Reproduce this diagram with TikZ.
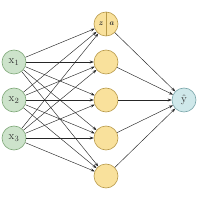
\documentclass[tikz,border=0pt]{standalone}
\usetikzlibrary{arrows.meta}
\definecolor{ingreen}{HTML}{CDE3CB}
\definecolor{instroke}{HTML}{7FA878}
\definecolor{hidfill}{HTML}{F9E19C}
\definecolor{hidstroke}{HTML}{B89A4A}
\definecolor{outfill}{HTML}{CFE8EA}
\definecolor{outstroke}{HTML}{7AA6AA}
\definecolor{txt}{HTML}{333333}
\begin{document}
\begin{tikzpicture}[x=1pt,y=-1pt,
  neuron/.style={circle,minimum size=24pt,inner sep=0pt,line width=0.6pt,text=txt,font=\fontsize{11}{13}\selectfont},
  innode/.style={neuron,fill=ingreen,draw=instroke},
  hidnode/.style={neuron,fill=hidfill,draw=hidstroke},
  outnode/.style={neuron,fill=outfill,draw=outstroke},
  halflabel/.style={font=\fontsize{8}{9}\selectfont\bfseries\itshape,text=txt,inner sep=0pt},
  conn/.style={-{Stealth[length=4pt,width=3pt]},line width=0.45pt,black!85}]
\useasboundingbox (0,0) rectangle (200,200);
\node[innode] (x1) at (14,62) {$\mathrm{x}_1$};
\node[innode] (x2) at (14,100) {$\mathrm{x}_2$};
\node[innode] (x3) at (14,138) {$\mathrm{x}_3$};
\node[hidnode] (h1) at (106,24) {};
\node[hidnode] (h2) at (106,62) {};
\node[hidnode] (h3) at (106,100) {};
\node[hidnode] (h4) at (106,138) {};
\node[hidnode] (h5) at (106,176) {};
\node[outnode] (y) at (184,100) {$\hat{\mathrm{y}}$};
\draw[hidstroke,line width=0.6pt] (h1.north) -- (h1.south);
\node[halflabel] (za) at (100.5,24) {z};
\node[halflabel] (zb) at (111.5,24) {a};
\foreach \i in {x1,x2,x3}{
  \foreach \h in {h1,h2,h3,h4,h5}{
    \draw[conn] (\i) -- (\h);
  }
}
\foreach \h in {h1,h2,h3,h4,h5}{
  \draw[conn] (\h) -- (y);
}
\end{tikzpicture}
\end{document}
